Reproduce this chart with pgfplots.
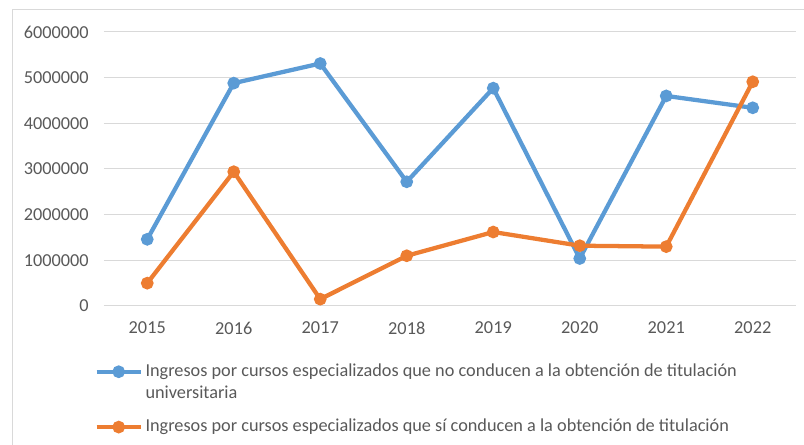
\documentclass[border=0pt]{standalone}
\usepackage{pgfplots}
\pgfplotsset{compat=1.18}
\usepackage{fontspec}
\setmainfont{Carlito}
\definecolor{cblue}{HTML}{5B9BD5}
\definecolor{corange}{HTML}{ED7D31}
\definecolor{cgrid}{HTML}{D9D9D9}
\definecolor{ctext}{HTML}{595959}
\pgfplotsset{
  leglow/.style={legend image code/.code={\draw[mark repeat=2, mark phase=2, ##1] plot coordinates {(0pt,3.5pt) (16.5pt,3.5pt) (33pt,3.5pt)};}},
  leghigh/.style={legend image code/.code={\draw[mark repeat=2, mark phase=2, ##1] plot coordinates {(0pt,20pt) (16.5pt,20pt) (33pt,20pt)};}},
}
\begin{document}
\begin{tikzpicture}
\useasboundingbox (0,0) rectangle (603pt,333.75pt);
\draw[cgrid, line width=0.75pt] (9pt,0pt) -- (9pt,326.25pt) -- (603pt,326.25pt);
\begin{axis}[
  at={(78pt,104.25pt)}, anchor=south west,
  scale only axis, width=519pt, height=205.5pt,
  xmin=-0.5, xmax=7.5, ymin=0, ymax=6000000,
  xtick={0,1,2,3,4,5,6,7},
  xticklabels={2015,2016,2017,2018,2019,2020,2021,2022},
  ytick={0,1000000,2000000,3000000,4000000,5000000,6000000},
  scaled y ticks=false,
  /pgf/number format/assume math mode=true,
  yticklabel style={/pgf/number format/fixed, /pgf/number format/1000 sep={}, font=\fontsize{13.7}{16}\selectfont, text=ctext, xshift=-8pt},
  xticklabel style={font=\fontsize{13.7}{16}\selectfont, text=ctext, yshift=-8.5pt},
  axis line style={draw=none},
  major tick length=0pt,
  ymajorgrids, grid style={cgrid, line width=0.75pt},
  legend style={at={(rel axis cs:-0.014,-0.2)}, anchor=north west, draw=none, fill=none, inner sep=0pt,
    font=\fontsize{13.7}{16.5}\selectfont, text=ctext, cells={anchor=base west, align=left}, row sep=10pt,
    nodes={inner sep=2pt}},
  leglow,
  clip=false,
]
\addplot[cblue, line width=3.2pt, mark=*, mark size=3.1pt, mark options={draw=none, fill=cblue}, leghigh]
  coordinates {(0,1460000) (1,4880000) (2,5310000) (3,2720000) (4,4770000) (5,1040000) (6,4600000) (7,4340000)};
\addlegendentry{Ingresos por cursos especializados que no conducen a la obtención de titulación\\universitaria}
\addplot[corange, line width=3.2pt, mark=*, mark size=3.1pt, mark options={draw=none, fill=corange}]
  coordinates {(0,500000) (1,2940000) (2,150000) (3,1100000) (4,1620000) (5,1320000) (6,1300000) (7,4910000)};
\addlegendentry{Ingresos por cursos especializados que sí conducen a la obtención de titulación}
\end{axis}
\end{tikzpicture}
\end{document}
